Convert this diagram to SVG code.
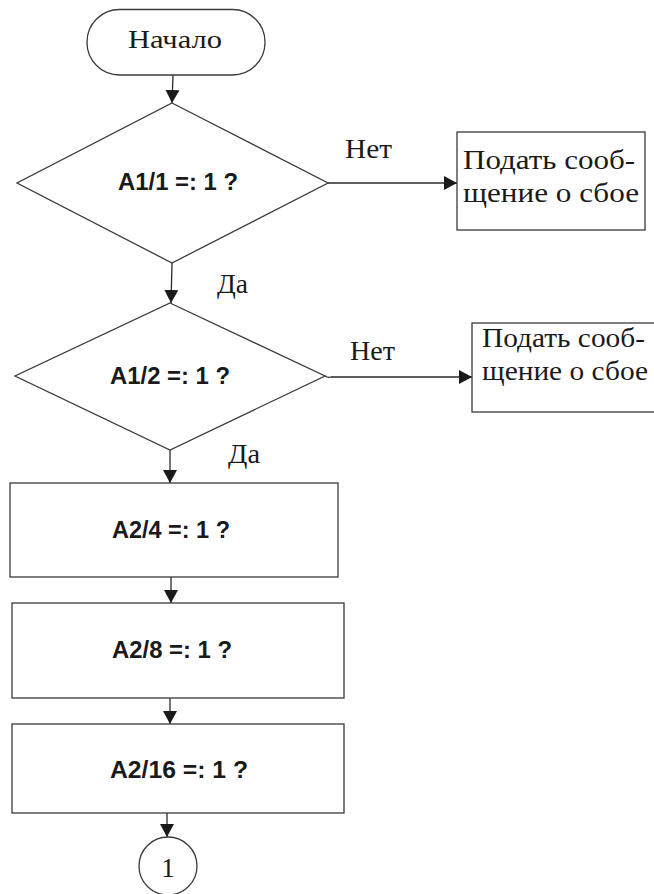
<svg xmlns="http://www.w3.org/2000/svg" width="654" height="894" viewBox="0 0 654 894">
  <style>
    .shape { fill: #ffffff; stroke: #3a3a3a; stroke-width: 1.3; }
    .line { fill: none; stroke: #2a2a2a; stroke-width: 1.3; }
    .serif { font-family: "Liberation Serif", "Times New Roman", serif; font-size: 27px; fill: #1a1a1a; }
    .start-label { font-size: 26px; }
    .cond { font-family: "Liberation Sans", Arial, sans-serif; font-weight: bold; font-size: 24px; fill: #1a1a1a; }
  </style>
  <defs>
    <marker id="arrow" viewBox="0 0 13 14" refX="13" refY="7" markerWidth="13" markerHeight="14" markerUnits="userSpaceOnUse" orient="auto">
      <path d="M0,0 L13,7 L0,14 Z" fill="#1a1a1a"/>
    </marker>
  </defs>

  <!-- connectors -->
  <g id="connectors">
    <line class="line" x1="173" y1="75" x2="172" y2="103" marker-end="url(#arrow)"/>
    <line class="line" x1="328" y1="183" x2="457" y2="183" marker-end="url(#arrow)"/>
    <line class="line" x1="172" y1="263" x2="171" y2="303" marker-end="url(#arrow)"/>
    <path class="line" d="M325,376 Q328,378 331,377 L472,377" marker-end="url(#arrow)"/>
    <line class="line" x1="170" y1="450" x2="170" y2="483" marker-end="url(#arrow)"/>
    <line class="line" x1="171" y1="577" x2="171" y2="603" marker-end="url(#arrow)"/>
    <line class="line" x1="170" y1="698" x2="170" y2="724" marker-end="url(#arrow)"/>
    <line class="line" x1="167" y1="813" x2="167" y2="837" marker-end="url(#arrow)"/>
    <text class="serif" x="345" y="158" textLength="47" lengthAdjust="spacingAndGlyphs">Нет</text>
    <text class="serif" x="217" y="293" textLength="31" lengthAdjust="spacingAndGlyphs">Да</text>
    <text class="serif" x="350" y="360" textLength="45" lengthAdjust="spacingAndGlyphs">Нет</text>
    <text class="serif" x="228" y="463" textLength="32" lengthAdjust="spacingAndGlyphs">Да</text>
  </g>

  <!-- start terminal -->
  <g id="start">
    <rect class="shape" x="87" y="9.5" width="178" height="65.5" rx="32.5" ry="32.5"/>
    <text class="serif start-label" x="128" y="48" textLength="94" lengthAdjust="spacingAndGlyphs">Начало</text>
  </g>

  <!-- decision A1/1 -->
  <g id="check-a1-1">
    <polygon class="shape" points="172,103 328,183 172,263 17,183"/>
    <text class="cond" x="118" y="190" textLength="120" lengthAdjust="spacingAndGlyphs">A1/1 =: 1 ?</text>
  </g>

  <!-- failure message 1 -->
  <g id="fail-1">
    <rect class="shape" x="457" y="132" width="188" height="98"/>
    <text class="serif" x="463" y="169" textLength="172" lengthAdjust="spacingAndGlyphs">Подать сооб-</text>
    <text class="serif" x="463" y="202" textLength="176" lengthAdjust="spacingAndGlyphs">щение о сбое</text>
  </g>

  <!-- decision A1/2 -->
  <g id="check-a1-2">
    <polygon class="shape" points="170,303 325,376 170,450 15,376"/>
    <text class="cond" x="110" y="384" textLength="120" lengthAdjust="spacingAndGlyphs">A1/2 =: 1 ?</text>
  </g>

  <!-- failure message 2 -->
  <g id="fail-2">
    <rect class="shape" x="472" y="323" width="200" height="89"/>
    <text class="serif" x="482" y="347" textLength="163" lengthAdjust="spacingAndGlyphs">Подать сооб-</text>
    <text class="serif" x="482" y="380" textLength="166" lengthAdjust="spacingAndGlyphs">щение о сбое</text>
  </g>

  <!-- check A2/4 -->
  <g id="check-a2-4">
    <rect class="shape" x="10" y="483" width="328" height="94"/>
    <text class="cond" x="112" y="538" textLength="118" lengthAdjust="spacingAndGlyphs">A2/4 =: 1 ?</text>
  </g>

  <!-- check A2/8 -->
  <g id="check-a2-8">
    <rect class="shape" x="12" y="603" width="332" height="95"/>
    <text class="cond" x="112" y="658" textLength="120" lengthAdjust="spacingAndGlyphs">A2/8 =: 1 ?</text>
  </g>

  <!-- check A2/16 -->
  <g id="check-a2-16">
    <rect class="shape" x="12" y="724" width="332" height="89"/>
    <text class="cond" x="110" y="778" textLength="138" lengthAdjust="spacingAndGlyphs">A2/16 =: 1 ?</text>
  </g>

  <!-- off-page connector -->
  <g id="connector-1">
    <circle class="shape" cx="168" cy="866" r="29"/>
    <text class="serif" x="168" y="877" text-anchor="middle">1</text>
  </g>
</svg>
